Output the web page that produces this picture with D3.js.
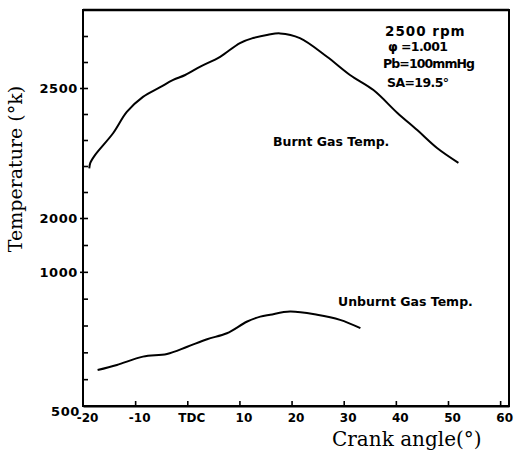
<!DOCTYPE html>
<html>
<head>
<meta charset="utf-8">
<script src="https://cdn.jsdelivr.net/npm/d3@7/dist/d3.min.js"></script>
<style>
  html, body { margin: 0; padding: 0; background: #fff; }
  svg { display: block; }
</style>
</head>
<body>
<script>
// Crank angle ticks (degrees) and their printed labels
const angleTicks = [-20, -10, 0, 10, 20, 30, 40, 50, 60];
const angleTickLabels = ["-20", "-10", "TDC", "10", "20", "30", "40", "50", "60"];

// Temperature axis is broken: a low band (500-1100 K) and a high band (2000-2800 K)
const lowTicks = [600, 700, 800, 900, 1000, 1100];
const lowLabels = [500, 1000];
const highTicks = [2000, 2100, 2200, 2300, 2400, 2500, 2600, 2700];
const highLabels = [2000, 2500];

// Burnt gas temperature (K) vs crank angle
const burntAngle = [-18.8, -18.6, -17.7, -14.2, -11.6, -8.5, -5.2, -2.7, -0.4, 2.5, 6.3, 10.1, 12.6, 15.5, 17.8, 21.6, 26.8, 31.2, 35.7, 40.3, 44.1, 47.9, 52.0];
const burntTemp  = [2191, 2212, 2242, 2327, 2408, 2466, 2503, 2531, 2550, 2582, 2620, 2673, 2692, 2705, 2710, 2692, 2620, 2550, 2492, 2404, 2338, 2269, 2212];

// Unburnt gas temperature (K) vs crank angle
const unburntAngle = [-17.2, -13.5, -8.5, -3.9, 0, 3.8, 7.6, 11.5, 14.0, 15.9, 19.7, 24.9, 29.3, 33.2];
const unburntTemp  = [634, 653, 684, 694, 721, 749, 771, 815, 833, 840, 852, 840, 821, 790];

// Operating conditions
const conditions = ["2500 rpm", "\u03C6 =1.001", "Pb=100mmHg", "SA=19.5\u00B0"];

const W = 514, H = 451;
const svg = d3.select("body").append("svg").attr("width", W).attr("height", H);

const x = d3.scaleLinear().domain([-20, 61.7]).range([83, 509]);
const yLow = d3.scaleLinear().domain([500, 1100]).range([406, 245]);
const yHigh = d3.scaleLinear().domain([2000, 2800]).range([218, 10]);

const tickFont = "'DejaVu Sans', sans-serif";
const serif = "'DejaVu Serif', serif";

// Frame (top edge drawn a little heavier)
svg.append("rect")
  .attr("x", x(-20)).attr("y", yHigh(2800))
  .attr("width", x(61.7) - x(-20)).attr("height", yLow(500) - yHigh(2800))
  .attr("fill", "none").attr("stroke", "#000").attr("stroke-width", 2);
svg.append("line")
  .attr("x1", x(-20)).attr("x2", x(61.7))
  .attr("y1", yHigh(2800)).attr("y2", yHigh(2800))
  .attr("stroke", "#000").attr("stroke-width", 2.6);

// X axis, ticks pointing into the plot
const xAxis = svg.append("g")
  .attr("transform", `translate(0,${yLow(500)})`)
  .call(d3.axisBottom(x).tickValues(angleTicks)
    .tickFormat((d, i) => angleTickLabels[i])
    .tickSize(-5).tickSizeOuter(0).tickPadding(7));
xAxis.select(".domain").attr("stroke-width", 2);
xAxis.selectAll(".tick line").attr("stroke-width", 1.6);
xAxis.selectAll(".tick text")
  .attr("dx", 4)
  .style("font-family", tickFont).style("font-weight", "bold").style("font-size", "12px")
  .attr("fill", "#000");
xAxis.selectAll(".tick").filter(d => d === -20).select("line").remove();

// Y axes, ticks pointing into the plot
function styleY(g, labels) {
  g.select(".domain").remove();
  g.selectAll(".tick line").attr("stroke-width", 1.6);
  g.selectAll(".tick text")
    .style("font-family", tickFont).style("font-weight", "bold").style("font-size", "13px")
    .style("letter-spacing", "0.6px").attr("fill", "#000");
  g.selectAll(".tick").filter(d => labels.includes(d))
    .append("line").attr("x1", -3).attr("x2", 0).attr("stroke", "#000").attr("stroke-width", 1.6);
}

const lowAxis = svg.append("g")
  .attr("transform", `translate(${x(-20)},0)`)
  .call(d3.axisLeft(yLow).tickValues([500].concat(lowTicks))
    .tickFormat(d => lowLabels.includes(d) ? String(d) : "")
    .tickSize(-5).tickPadding(5));
styleY(lowAxis, [1000]);
lowAxis.selectAll(".tick").filter(d => d === 500).select("line").remove();
lowAxis.selectAll(".tick").filter(d => d === 500).select("text").attr("y", 5).attr("x", -3);

const highAxis = svg.append("g")
  .attr("transform", `translate(${x(-20)},0)`)
  .call(d3.axisLeft(yHigh).tickValues(highTicks)
    .tickFormat(d => highLabels.includes(d) ? String(d) : "")
    .tickSize(-5).tickPadding(5));
styleY(highAxis, highLabels);

// Continuous left spine across the break
svg.append("line")
  .attr("x1", x(-20)).attr("x2", x(-20))
  .attr("y1", yHigh(2800)).attr("y2", yLow(500))
  .attr("stroke", "#000").attr("stroke-width", 2);

// Curves
const lineHigh = d3.line().x(d => x(d[0])).y(d => yHigh(d[1])).curve(d3.curveCatmullRom.alpha(0.5));
const lineLow = d3.line().x(d => x(d[0])).y(d => yLow(d[1])).curve(d3.curveCatmullRom.alpha(0.5));

svg.append("path")
  .datum(d3.zip(burntAngle, burntTemp))
  .attr("d", lineHigh)
  .attr("fill", "none").attr("stroke", "#000").attr("stroke-width", 2);

svg.append("path")
  .datum(d3.zip(unburntAngle, unburntTemp))
  .attr("d", lineLow)
  .attr("fill", "none").attr("stroke", "#000").attr("stroke-width", 2);

// Curve labels
const labelStyle = sel => sel
  .style("font-family", tickFont).style("font-weight", "bold").style("font-size", "12.5px")
  .attr("fill", "#000");

svg.append("text").attr("x", 273).attr("y", 146).text("Burnt Gas Temp.").call(labelStyle);
svg.append("text").attr("x", 338).attr("y", 306).text("Unburnt Gas Temp.").call(labelStyle);

// Operating conditions block
const condX = [385, 388, 383, 387];
const condY = [36, 51, 68, 87];
const condSize = [13.5, 12.5, 12.5, 12.5];
const condSpacing = [1, -0.6, -0.9, -0.6];
svg.append("g").selectAll("text")
  .data(conditions)
  .join("text")
  .attr("x", (d, i) => condX[i])
  .attr("y", (d, i) => condY[i])
  .text(d => d)
  .call(labelStyle)
  .style("font-size", (d, i) => condSize[i] + "px")
  .style("letter-spacing", (d, i) => condSpacing[i] + "px");

// Axis titles
svg.append("text")
  .attr("x", 332).attr("y", 446)
  .style("font-family", serif).style("font-size", "20px")
  .attr("fill", "#000")
  .text("Crank angle(\u00B0)");

svg.append("text")
  .attr("transform", "translate(22,169) rotate(-90)")
  .attr("text-anchor", "middle")
  .style("font-family", serif).style("font-size", "19px")
  .attr("fill", "#000")
  .text("Temperature (\u00B0k)");
</script>
</body>
</html>
